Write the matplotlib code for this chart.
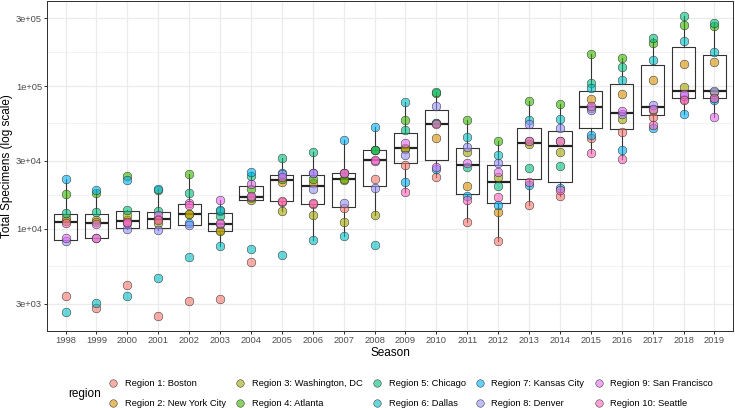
import numpy as np
import matplotlib.pyplot as plt
from matplotlib import cbook
from matplotlib.colors import to_rgba
from matplotlib.lines import Line2D
from matplotlib.ticker import FixedLocator, NullFormatter

seasons = list(range(1998, 2020))
regions = ['Region 1: Boston', 'Region 2: New York City', 'Region 3: Washington, DC',
           'Region 4: Atlanta', 'Region 5: Chicago', 'Region 6: Dallas',
           'Region 7: Kansas City', 'Region 8: Denver', 'Region 9: San Francisco',
           'Region 10: Seattle']
colors = ['#F8766D', '#D89000', '#A3A500', '#39B600', '#00BF7D',
          '#00BFC4', '#00B0F6', '#9590FF', '#E76BF3', '#FF62BC']

# total specimens per season (1998 ... 2019)
boston = [3400, 2790, 4030, 2470, 3130, 3220, 5830, 15530, 15030, 14010, 22300,
          27900, 23300, 11190, 8250, 14640, 16980, 43200, 47400, 61000, 81500, 83000]
new_york = [12000, 11500, 11500, 11820, 12800, 9900, 16400, 21500, 20940, 22200, 35500,
            36500, 43300, 20000, 13130, 41000, 41500, 81900, 87700, 110000, 142000, 147000]
washington = [11400, 11200, 12450, 11080, 12800, 9690, 15850, 13350, 12460, 11140, 12600,
              37000, 55000, 34400, 23000, 39400, 34800, 70000, 59000, 68500, 99000, 91000]
atlanta = [17500, 17800, 23400, 18800, 24200, 13300, 19100, 22500, 22470, 22300, 35800,
           58000, 89000, 58000, 41600, 78200, 74800, 167000, 158000, 199000, 270000, 263000]
chicago = [12900, 13100, 13650, 13300, 17950, 12300, 23500, 31270, 34450, 24800, 36000,
           49300, 91000, 27100, 19950, 26800, 27500, 106000, 137000, 218000, 310000, 277000]
dallas = [2640, 3050, 3410, 4510, 6380, 7570, 7210, 6590, 8340, 8900, 7780,
          77600, 55500, 43800, 33200, 58000, 58600, 96800, 110000, 153000, 206000, 173000]
kansas_city = [22400, 18800, 21900, 19000, 11080, 13500, 25200, 24700, 24500, 42000, 51400,
               21200, 26300, 16900, 14790, 20400, 19400, 45700, 35800, 50600, 63700, 79900]
denver = [8250, 8650, 10000, 9790, 10600, 10800, 16700, 24300, 19100, 15170, 19220,
          33100, 72900, 37700, 29000, 54300, 50600, 68400, 63700, 73900, 86000, 92700]
san_francisco = [8650, 10800, 11000, 12450, 15150, 15850, 20500, 23000, 24850, 24500, 30000,
                 39800, 27300, 29200, 24950, 41600, 41100, 73000, 67100, 69000, 87700, 61300]
seattle = [11000, 8600, 11190, 11500, 14800, 11000, 17000, 15800, 15200, 24700, 30500,
           18100, 54500, 16000, 16700, 21300, 18800, 33800, 30900, 53300, 80100, 82500]

values = np.array([boston, new_york, washington, atlanta, chicago, dallas,
                   kansas_city, denver, san_francisco, seattle])
pos = np.arange(1, len(seasons) + 1)

plt.rcParams['font.family'] = ['Liberation Sans', 'DejaVu Sans']

fig = plt.figure(figsize=(735 / 72, 408 / 72), dpi=72)
ax = fig.add_axes([47 / 735, (408 - 330.7) / 408, 686 / 735, 329.7 / 408])

# box stats on the log scale (like ggplot with scale_y_log10), then back-transformed
stats = cbook.boxplot_stats(np.log10(values), whis=1.5)
for st in stats:
    for k in ('med', 'q1', 'q3', 'whislo', 'whishi'):
        st[k] = 10 ** st[k]
    st['fliers'] = []
ax.bxp(stats, positions=pos, widths=0.75, showfliers=False, showcaps=False,
       boxprops=dict(color='#333333', linewidth=1.1),
       whiskerprops=dict(color='#333333', linewidth=1.1),
       medianprops=dict(color='#222222', linewidth=2.2), zorder=2)

for i in range(len(regions)):
    ax.scatter(pos, values[i], s=75, facecolor=to_rgba(colors[i], 0.6),
               edgecolor='#333333', linewidth=0.5, zorder=3)

ax.set_yscale('log')
lo, hi = np.log10(values.min()), np.log10(values.max())
pad = (hi - lo) * 0.05
ax.set_ylim(10 ** (lo - pad), 10 ** (hi + pad))
ax.set_xlim(0.4, len(seasons) + 0.6)

breaks = [3e3, 1e4, 3e4, 1e5, 3e5]
ax.yaxis.set_major_locator(FixedLocator(breaks))
ax.set_yticklabels([f'{b:.0e}' for b in breaks])
minor = [np.sqrt(a * b) for a, b in zip(breaks[:-1], breaks[1:])]
ax.yaxis.set_minor_locator(FixedLocator(minor))
ax.yaxis.set_minor_formatter(NullFormatter())
ax.set_xticks(pos)
ax.set_xticklabels(seasons)

ax.grid(True, which='major', color='#EBEBEB', linewidth=1.2, zorder=0)
ax.grid(True, which='minor', axis='y', color='#EBEBEB', linewidth=0.6, zorder=0)
ax.set_axisbelow(True)
ax.tick_params(which='major', length=2.75, width=1.0, color='#333333',
               labelsize=9.4, labelcolor='#4D4D4D', pad=2.2)
ax.tick_params(which='minor', length=0)
for s in ax.spines.values():
    s.set_color('#333333')
    s.set_linewidth(1.0)

ax.set_xlabel('Season', fontsize=11.8, labelpad=2.5)
ax.set_ylabel('Total Specimens (log scale)', fontsize=11.8)
ax.yaxis.set_label_coords(-34 / 686, 0.5)

handles = [Line2D([], [], marker='o', linestyle='', markersize=7.5,
                  markerfacecolor=to_rgba(c, 0.6), markeredgecolor='#333333',
                  markeredgewidth=0.5) for c in colors]
fig.legend(handles, regions, ncol=5, loc='upper left',
           bbox_to_anchor=(108.6 / 735, 1 - 379 / 408), frameon=False,
           fontsize=9.4, handlelength=1.0, handletextpad=0.75, columnspacing=1.0,
           labelspacing=1.2, borderpad=0, borderaxespad=0)
fig.text(68 / 735, 1 - 394 / 408, 'region', fontsize=11.8, va='center', ha='left')

fig.savefig('out.png', dpi=72)
